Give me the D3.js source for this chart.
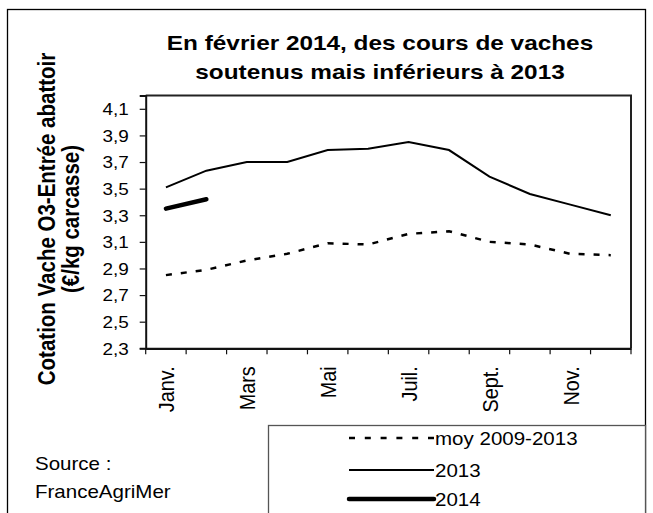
<!DOCTYPE html>
<html>
<head>
<meta charset="utf-8">
<script src="https://d3js.org/d3.v7.min.js"></script>
<style>
    body { margin: 0; background: #fff; }
    text { font-family: Arial, 'Liberation Sans', sans-serif; fill: #000; }
    .title { font-weight: bold; }
</style>
</head>
<body>
<div id="vis"></div>
<script>
// Months on the x axis (only every other one is labelled)
var months = ['Janv.', 'Févr.', 'Mars', 'Avr.', 'Mai', 'Juin', 'Juil.', 'Août', 'Sept.', 'Oct.', 'Nov.', 'Déc.'];
var monthLabels = ['Janv.', 'Mars', 'Mai', 'Juil.', 'Sept.', 'Nov.'];

// Prices (euro/kg carcasse)
var moy0913 = [2.85, 2.89, 2.96, 3.01, 3.09, 3.08, 3.16, 3.18, 3.10, 3.08, 3.01, 3.00];
var y2013 = [3.51, 3.635, 3.70, 3.70, 3.79, 3.80, 3.85, 3.79, 3.59, 3.46, 3.38, 3.30];
var y2014 = [3.35, 3.42];

var yTicks = [2.3, 2.5, 2.7, 2.9, 3.1, 3.3, 3.5, 3.7, 3.9, 4.1];

var seriesNames = ['moy 2009-2013', '2013', '2014'];

(function() {
    var width = 653;
    var height = 513;
    // the original picture is stretched sideways, so text is widened a bit
    var sx = 1.16;

    var margin = { left: 145.7, right: 22, top: 95.5, bottom: 164.7 };
    var drawWidth = width - margin.left - margin.right;
    var drawHeight = height - margin.top - margin.bottom;

    var svg = d3.select('#vis')
        .append('svg')
        .attr('width', width)
        .attr('height', height);

    // outer frame
    svg.append('rect')
        .attr('x', 7.5).attr('y', 9.5)
        .attr('width', 638).attr('height', 520)
        .attr('fill', 'none').attr('stroke', '#000').attr('stroke-width', 1.3);

    // title
    var title = ['En février 2014, des cours de vaches', 'soutenus mais inférieurs à 2013'];
    title.forEach(function(t, i) {
        svg.append('text')
            .attr('class', 'title')
            .attr('transform', 'translate(380,' + (50 + i * 28.5) + ') scale(' + sx + ',1)')
            .attr('text-anchor', 'middle')
            .style('font-size', '21px')
            .text(t);
    });

    var g = svg.append('g')
        .attr('transform', 'translate(' + margin.left + ',' + margin.top + ')');

    var xScale = d3.scaleBand()
        .domain(months)
        .range([0, drawWidth]);

    var yScale = d3.scaleLinear()
        .domain([2.3, 4.2])
        .range([drawHeight, 0]);

    // plot area border (top and right)
    g.append('path')
        .attr('d', 'M0,0H' + drawWidth + 'V' + drawHeight)
        .attr('fill', 'none').attr('stroke', '#222').attr('stroke-width', 2);

    // y axis
    var yAxis = d3.axisLeft(yScale)
        .tickValues(yTicks)
        .tickSize(6)
        .tickPadding(4)
        .tickFormat(function(d) { return d3.format('.1f')(d).replace('.', ','); });
    var yAxisG = g.append('g').call(yAxis);
    yAxisG.select('.domain').attr('stroke', '#111').attr('stroke-width', 2);
    yAxisG.selectAll('.tick line').attr('stroke', '#111').attr('stroke-width', 1.2);
    yAxisG.selectAll('.tick text')
        .style('font-size', '16.3px')
        .attr('x', null)
        .attr('transform', 'translate(-17,0) scale(' + sx + ',1)')
        .attr('dy', '0.36em');
    yAxisG.attr('font-family', null).attr('font-size', null);

    // x axis: ticks between the months
    var xAxis = d3.axisBottom(xScale).tickSize(0).tickFormat('');
    var xAxisG = g.append('g')
        .attr('transform', 'translate(0,' + drawHeight + ')')
        .call(xAxis);
    xAxisG.select('.domain').attr('stroke', '#111').attr('stroke-width', 2.2);
    xAxisG.selectAll('.tick').remove();

    var bounds = months.map(function(m) { return xScale(m); }).concat([drawWidth]);
    xAxisG.selectAll('.sep')
        .data(bounds)
        .enter().append('line')
        .attr('class', 'sep')
        .attr('x1', function(d) { return d; })
        .attr('x2', function(d) { return d; })
        .attr('y1', 0).attr('y2', 6)
        .attr('stroke', '#111').attr('stroke-width', 1.2);

    xAxisG.selectAll('.mlabel')
        .data(monthLabels)
        .enter().append('text')
        .attr('class', 'mlabel')
        .attr('text-anchor', 'end')
        .attr('dy', '0.36em')
        .style('font-size', '19.8px')
        .attr('transform', function(d) {
            return 'translate(' + (xScale(d) + xScale.bandwidth() / 2) + ',18) scale(' + sx + ',1) rotate(-90)';
        })
        .text(function(d) { return d; });

    // y axis title
    var yTitle = ['Cotation Vache O3-Entrée abattoir', '(€/kg carcasse)'];
    yTitle.forEach(function(t, i) {
        svg.append('text')
            .attr('class', 'title')
            .attr('text-anchor', 'middle')
            .style('font-size', '20.5px')
            .attr('transform', 'translate(' + (55 + i * 23.5) + ',219) scale(' + sx + ',1) rotate(-90)')
            .text(t);
    });

    // lines
    var line = d3.line()
        .x(function(d, i) { return xScale(months[i]) + xScale.bandwidth() / 2; })
        .y(function(d) { return yScale(d); });

    g.append('path')
        .datum(moy0913)
        .attr('d', line)
        .attr('fill', 'none').attr('stroke', '#000')
        .attr('stroke-width', 2.5)
        .attr('stroke-dasharray', '6,9');

    g.append('path')
        .datum(y2013)
        .attr('d', line)
        .attr('fill', 'none').attr('stroke', '#000')
        .attr('stroke-width', 2);

    g.append('path')
        .datum(y2014)
        .attr('d', line)
        .attr('fill', 'none').attr('stroke', '#000')
        .attr('stroke-width', 4.5)
        .attr('stroke-linecap', 'round');

    // legend
    var legend = svg.append('g');
    legend.append('rect')
        .attr('x', 268.5).attr('y', 425.5)
        .attr('width', 377).attr('height', 120)
        .attr('fill', '#fff').attr('stroke', '#555').attr('stroke-width', 1.3);

    var legendStyles = [
        { w: 2.5, dash: '6,9.8', cap: 'butt' },
        { w: 2, dash: null, cap: 'butt' },
        { w: 4.5, dash: null, cap: 'round' }
    ];
    var rowY = [438, 470, 499];
    seriesNames.forEach(function(name, i) {
        legend.append('line')
            .attr('x1', 349).attr('x2', 434)
            .attr('y1', rowY[i]).attr('y2', rowY[i])
            .attr('stroke', '#000')
            .attr('stroke-width', legendStyles[i].w)
            .attr('stroke-dasharray', legendStyles[i].dash)
            .attr('stroke-linecap', legendStyles[i].cap);
        legend.append('text')
            .attr('transform', 'translate(435,' + (rowY[i] + 6.5) + ') scale(' + sx + ',1)')
            .style('font-size', '17.7px')
            .text(name);
    });

    // source
    ['Source :', 'FranceAgriMer'].forEach(function(t, i) {
        svg.append('text')
            .attr('transform', 'translate(35,' + (470 + i * 28) + ') scale(' + sx + ',1)')
            .style('font-size', '17.7px')
            .text(t);
    });
})();
</script>
</body>
</html>
